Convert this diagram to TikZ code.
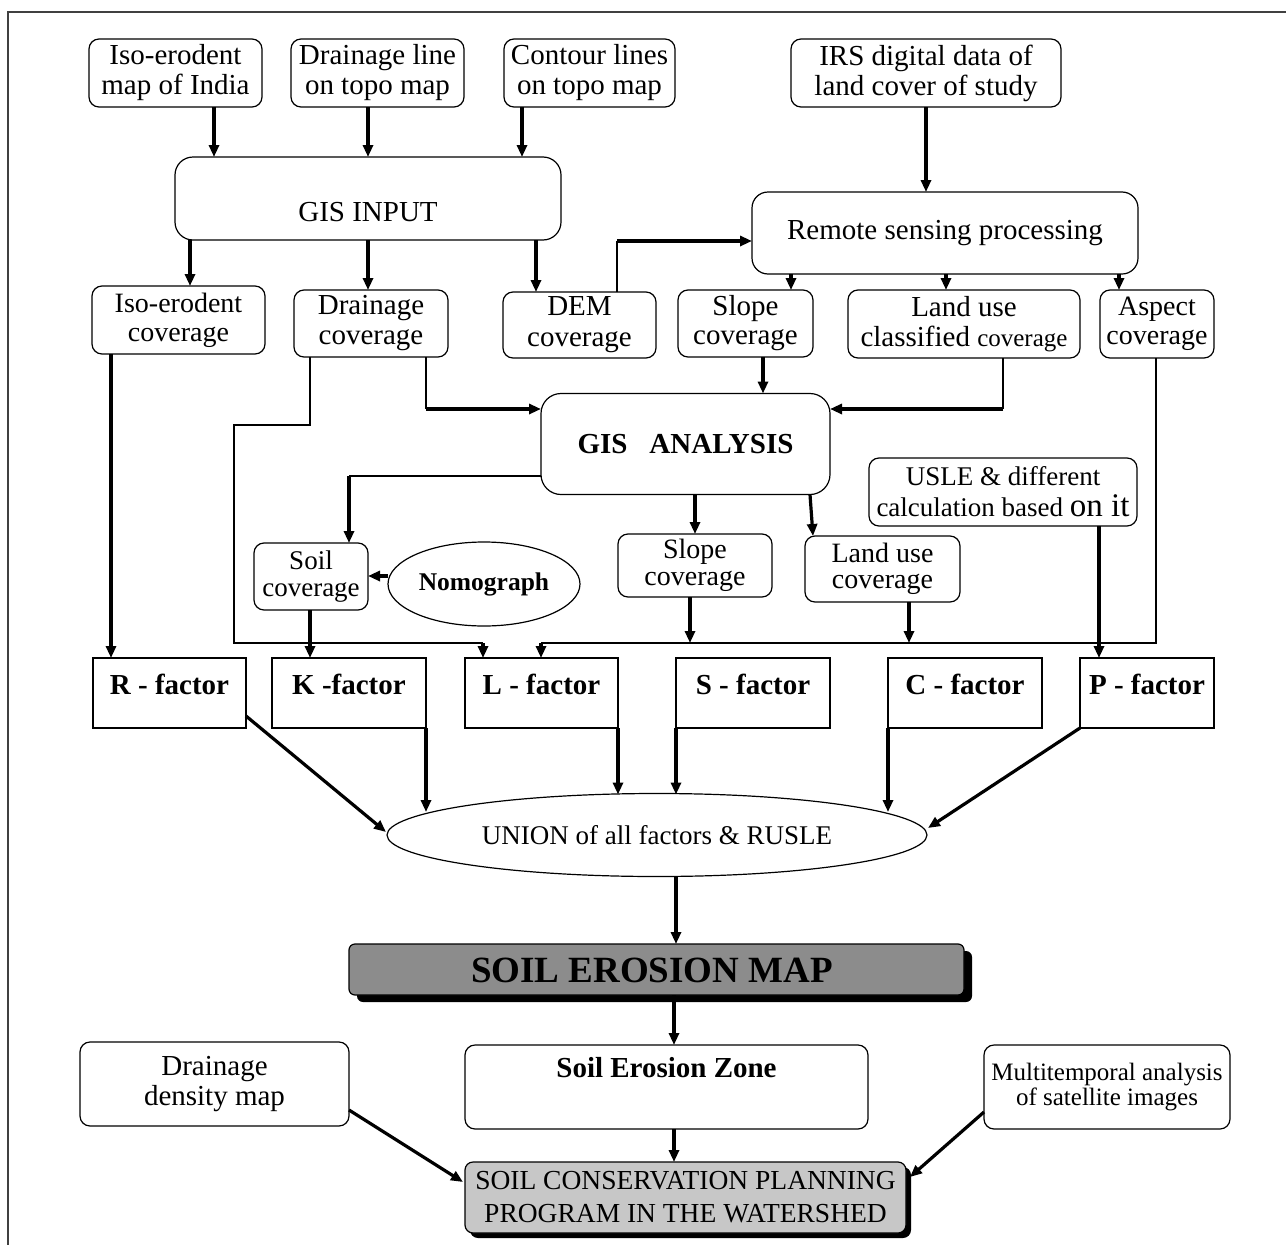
\documentclass[tikz,border=0pt]{standalone}
\usepackage{fontspec}
\setmainfont{Liberation Serif}
\usetikzlibrary{arrows.meta,shapes.geometric,shadows}

\begin{document}
\begin{tikzpicture}[x=1pt,y=-1pt,
  every node/.style={inner sep=0pt,outer sep=0pt},
  rbox/.style={draw,line width=1.2pt,rounded corners=10pt,align=center,
    font=\fontsize{29}{30}\selectfont},
  sqbox/.style={draw,line width=1.2pt},
  ftxt/.style={font=\bfseries\fontsize{29}{30}\selectfont},
  plain/.style={align=center,font=\fontsize{29}{30}\selectfont},
  arr/.style={line width=3.2pt,-{Triangle[length=12pt,width=10pt]}},
  wire/.style={line width=1.2pt},
  frameline/.style={line width=1.5pt,draw=black!75},
]
\useasboundingbox (0,0) rectangle (1286,1245);

% outer frame (left and top edges)
\draw[frameline] (8,1245) -- (8,12) -- (1286,12);

% ---- input sources
\node[rbox,minimum width=173pt,minimum height=68pt] (iso) at (175.5,73) {Iso-erodent\\map of India};
\node[rbox,minimum width=173pt,minimum height=68pt] (drl) at (377.5,73) {Drainage line\\on topo map};
\node[rbox,minimum width=171pt,minimum height=68pt] (con) at (589.5,73) {Contour lines\\on topo map};
\node[rbox,minimum width=270pt,minimum height=68pt] (irs) at (926,73) {IRS digital data of\\land cover of study};

% ---- processing
\node[rbox,rounded corners=18pt,minimum width=386pt,minimum height=83pt] (gisin) at (368,198.5) {};
\node[plain] (gisintxt) at (368,212) {GIS INPUT};
\node[rbox,rounded corners=16pt,minimum width=386pt,minimum height=82pt] (rsp) at (945,233) {Remote sensing processing};

% ---- coverages
\node[rbox,minimum width=173pt,minimum height=68pt,font=\fontsize{28}{29}\selectfont] (isoc) at (178.5,320) {Iso-erodent\\coverage};
\node[rbox,minimum width=154pt,minimum height=67pt] (drc) at (371,323.5) {Drainage\\coverage};
\node[rbox,minimum width=153pt,minimum height=66pt,font=\fontsize{29}{31}\selectfont] (dem) at (579.5,325) {DEM\\coverage};
\node[rbox,minimum width=135pt,minimum height=67pt,font=\fontsize{29}{29}\selectfont] (slc) at (745.5,323.5) {Slope\\coverage};
\node[rbox,minimum width=232pt,minimum height=68pt] (luc) at (964,324) {Land use\\classified {\fontsize{25}{30}\selectfont coverage}};
\node[rbox,minimum width=114pt,minimum height=68pt,font=\fontsize{28}{29}\selectfont] (asp) at (1157,324) {Aspect\\coverage};

% ---- analysis
\node[rbox,rounded corners=20pt,minimum width=289pt,minimum height=101pt,
  font=\bfseries\fontsize{29}{30}\selectfont] (gisan) at (685.5,444) {GIS\hspace{22pt}ANALYSIS};
\node[rbox,minimum width=268pt,minimum height=68pt,font=\fontsize{27}{31}\selectfont] (usle) at (1003,492)
  {USLE \& different\\calculation based {\fontsize{33}{31}\selectfont on it}};
\node[rbox,minimum width=114pt,minimum height=67pt,font=\fontsize{27}{27}\selectfont] (soil) at (311,576.5) {Soil\\coverage};
\node[draw,line width=1.2pt,ellipse,minimum width=192pt,minimum height=84pt,
  font=\bfseries\fontsize{25.5}{28}\selectfont] (nomo) at (484,584) {Nomograph};
\node[rbox,minimum width=154pt,minimum height=63pt,font=\fontsize{28}{26.5}\selectfont] (slc2) at (695,565.5) {Slope\\coverage};
\node[rbox,minimum width=155pt,minimum height=66pt,font=\fontsize{28}{26.5}\selectfont] (luc2) at (882.5,569) {Land use\\coverage};

% ---- factors
\node[sqbox,minimum width=153pt,minimum height=70pt] (R) at (169.5,693) {};
\node[sqbox,minimum width=154pt,minimum height=70pt] (K) at (349,693) {};
\node[sqbox,minimum width=153pt,minimum height=70pt] (L) at (541.5,693) {};
\node[sqbox,minimum width=154pt,minimum height=70pt] (S) at (753,693) {};
\node[sqbox,minimum width=154pt,minimum height=70pt] (C) at (965,693) {};
\node[sqbox,minimum width=134pt,minimum height=70pt] (P) at (1147,693) {};
\node[ftxt] (Rtxt) at (169.5,684) {R - factor};
\node[ftxt] (Ktxt) at (349,684) {K -factor};
\node[ftxt] (Ltxt) at (541.5,684) {L - factor};
\node[ftxt] (Stxt) at (753,684) {S - factor};
\node[ftxt] (Ctxt) at (965,684) {C - factor};
\node[ftxt] (Ptxt) at (1147,684) {P - factor};

% ---- union and results
\node[draw,line width=1.2pt,ellipse,minimum width=540pt,minimum height=83pt,
  font=\fontsize{27}{28}\selectfont] (union) at (657,835) {UNION of all factors \& RUSLE};
\node[draw,line width=1.2pt,fill=black!45,rounded corners=6pt,minimum width=615pt,minimum height=51pt,
  drop shadow={shadow xshift=8pt,shadow yshift=-7pt,opacity=1,fill=black}] (sem) at (656.5,969.5) {};
\node[font=\bfseries\fontsize{37}{38}\selectfont] (semtxt) at (652,970) {SOIL EROSION MAP};

\node[rbox,minimum width=403pt,minimum height=84pt] (zone) at (666.5,1087) {};
\node[plain,font=\bfseries\fontsize{29}{30}\selectfont] (zonetxt) at (666.5,1068) {Soil Erosion Zone};
\node[rbox,minimum width=269pt,minimum height=84pt] (ddm) at (214.5,1084) {Drainage\\density map};
\node[rbox,minimum width=246pt,minimum height=84pt,font=\fontsize{25}{25}\selectfont] (mta) at (1107,1087)
  {Multitemporal analysis\\of satellite images};
\node[draw,line width=1.2pt,fill=black!22,rounded corners=8pt,minimum width=441pt,minimum height=71pt,
  drop shadow={shadow xshift=5pt,shadow yshift=-5pt,opacity=1,fill=black},
  align=center,font=\fontsize{27.5}{33}\selectfont] (scp) at (685.5,1197.5)
  {SOIL CONSERVATION PLANNING\\PROGRAM IN THE WATERSHED};

% ---- connectors: sources to GIS input
\draw[arr] (214,0 |- iso.south) -- (214,0 |- gisin.north);
\draw[arr] (368,0 |- drl.south) -- (368,0 |- gisin.north);
\draw[arr] (522,0 |- con.south) -- (522,0 |- gisin.north);
\draw[arr] (irs.south) -- (irs.south |- rsp.north);

% GIS input to coverages
\draw[arr] (190,0 |- gisin.south) -- (190,0 |- isoc.north);
\draw[arr] (368,0 |- gisin.south) -- (368,0 |- drc.north);
\draw[arr] (536,0 |- gisin.south) -- (536,0 |- dem.north);

% DEM feeds remote sensing
\coordinate (demk) at (617,241);
\draw[wire] (617,0 |- dem.north) -- (demk);
\draw[arr] (demk) -- (rsp.west |- demk);

% remote sensing to coverages
\draw[arr] (791,0 |- rsp.south) -- (791,0 |- slc.north);
\draw[arr] (946,0 |- rsp.south) -- (946,0 |- luc.north);
\draw[arr] (1119,0 |- rsp.south) -- (1119,0 |- asp.north);

% coverages into GIS analysis
\draw[arr] (763,0 |- slc.south) -- (763,0 |- gisan.north);
\coordinate (drck) at (426,409);
\draw[wire] (426,0 |- drc.south) -- (drck);
\draw[arr] (drck) -- (gisan.west |- drck);
\coordinate (luck) at (1003,409);
\draw[wire] (1003,0 |- luc.south) -- (luck);
\draw[arr] (luck) -- (gisan.east |- luck);

% drainage coverage to L-factor (left route)
\coordinate (busl) at (483,643);
\draw[wire] (310,0 |- drc.south) -- (310,425) -- (234,425) -- (234,643) -- (busl);
\draw[arr] (busl) -- (busl |- L.north);

% aspect coverage to L-factor (right route)
\coordinate (busr) at (541,643);
\draw[wire] (1156,0 |- asp.south) -- (1156,643) -- (busr);
\draw[arr] (busr) -- (busr |- L.north);

% iso-erodent coverage to R-factor
\draw[arr] (111,0 |- isoc.south) -- (111,0 |- R.north);

% GIS analysis outputs
\coordinate (soilk) at (349,476);
\draw[wire] (gisan.west |- soilk) -- (soilk);
\draw[arr] (soilk) -- (349,0 |- soil.north);
\draw[arr] (nomo.west |- 0,576) -- (soil.east |- 0,576);
\draw[arr] (310,0 |- soil.south) -- (310,0 |- K.north);
\draw[arr] (695,0 |- gisan.south) -- (695,0 |- slc2.north);
\draw[arr] (810,0 |- gisan.south) -- (813,0 |- luc2.north);
\draw[arr] (690,0 |- slc2.south) -- (690,643);
\draw[arr] (909,0 |- luc2.south) -- (909,643);
\draw[arr] (1099,0 |- usle.south) -- (1099,0 |- P.north);

% factors into the union
\draw[arr] (R.east |- 0,716) -- (386,832);
\draw[arr] (426,0 |- K.south) -- (426,812);
\draw[arr] (618,0 |- L.south) -- (618,794.5);
\draw[arr] (676,0 |- S.south) -- (676,794.5);
\draw[arr] (888,0 |- C.south) -- (888,812);
\draw[arr] (P.south west) -- (928,828);

% results
\draw[arr] (676,876) -- (676,0 |- sem.north);
\draw[arr] (674,0 |- sem.south) -- (674,0 |- zone.north);
\draw[arr] (674,0 |- zone.south) -- (674,0 |- scp.north);
\draw[arr] (ddm.east |- 0,1110) -- (463,1182);
\draw[arr] (mta.west |- 0,1112) -- (910,1177);
\end{tikzpicture}
\end{document}
